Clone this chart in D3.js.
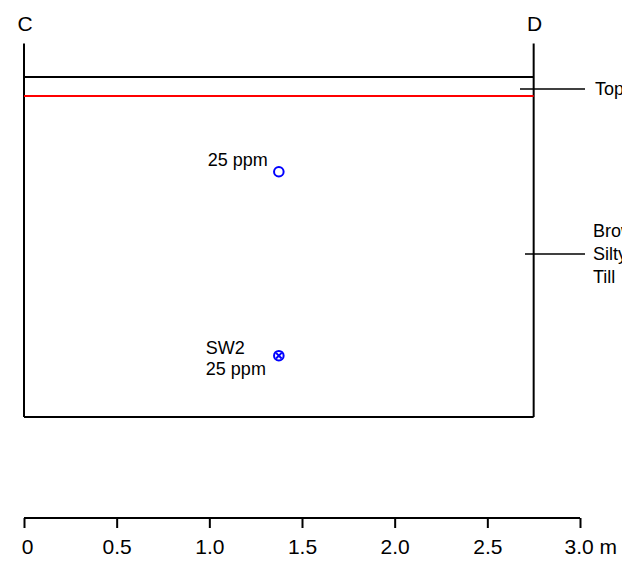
<!DOCTYPE html>
<html>
<head>
<meta charset="utf-8">
<script src="https://cdn.jsdelivr.net/npm/d3@7"></script>
<style>
  body { margin: 0; background: #fff; }
  svg text { font-family: "Liberation Sans", Arial, sans-serif; font-size: 18px; fill: #000; }
</style>
</head>
<body>
<div id="chart"></div>
<script>
// section ends (m along, depth in m)
var sectionEnds = [{name: "C", x: 0}, {name: "D", x: 2.75}];
var sectionTop = -0.18, sectionBottom = 1.83;
var layerLines = [{depth: 0, color: "black"}, {depth: 0.1, color: "#ff0000"}];
// samples
var samples = [
  {x: 1.375, depth: 0.51, labels: ["25 ppm"], cross: false},
  {x: 1.375, depth: 1.5, labels: ["SW2", "25 ppm"], cross: true}
];
// layer labels
var layerLabels = [
  {depth: 0.065, lines: ["Topsoil"]},
  {depth: 0.95, lines: ["Brown", "Silty", "Till"]}
];
var scaleTicks = [0, 0.5, 1.0, 1.5, 2.0, 2.5, 3.0];

var width = 622, height = 561;
var svg = d3.select("#chart").append("svg")
  .attr("width", width).attr("height", height);

var x = d3.scaleLinear().domain([0, 3]).range([24, 580]);
var y = d3.scaleLinear().domain([0, 1.83]).range([77, 417]);

var x0 = x(sectionEnds[0].x), x1 = x(sectionEnds[1].x);

// vertical section lines
svg.selectAll("line.end").data(sectionEnds).enter().append("line")
  .attr("x1", function(d) { return x(d.x); }).attr("x2", function(d) { return x(d.x); })
  .attr("y1", y(sectionTop)).attr("y2", y(sectionBottom))
  .attr("stroke", "black").attr("stroke-width", 2);

svg.selectAll("text.end").data(sectionEnds).enter().append("text")
  .attr("x", function(d) { return x(d.x) + 1; }).attr("y", 31)
  .attr("text-anchor", "middle").style("font-size", "21px")
  .text(function(d) { return d.name; });

// bottom line
svg.append("line")
  .attr("x1", x0).attr("x2", x1).attr("y1", y(sectionBottom)).attr("y2", y(sectionBottom))
  .attr("stroke", "black").attr("stroke-width", 2);

// layer boundaries
svg.selectAll("line.layer").data(layerLines).enter().append("line")
  .attr("x1", x0).attr("x2", x1)
  .attr("y1", function(d) { return Math.round(y(d.depth)); }).attr("y2", function(d) { return Math.round(y(d.depth)); })
  .attr("stroke", function(d) { return d.color; }).attr("stroke-width", 2);

// layer labels with leaders
var ll = svg.selectAll("g.ll").data(layerLabels).enter().append("g");
ll.append("line")
  .attr("x1", function(d, i) { return i == 0 ? 520 : 525; }).attr("x2", 585)
  .attr("y1", function(d) { return Math.round(y(d.depth)); }).attr("y2", function(d) { return Math.round(y(d.depth)); })
  .attr("stroke", "black").attr("stroke-width", 1.5);
ll.append("text")
  .attr("x", function(d, i) { return i == 0 ? 595 : 593; })
  .attr("y", function(d) { return y(d.depth) - (d.lines.length - 1) / 2 * 23 + 6; })
  .selectAll("tspan").data(function(d) { return d.lines; }).enter().append("tspan")
  .attr("x", function() { return d3.select(this.parentNode).attr("x"); })
  .attr("dy", function(d, i) { return i == 0 ? 0 : 23; })
  .text(function(d) { return d; });

// samples
var s = svg.selectAll("g.sample").data(samples).enter().append("g")
  .attr("transform", function(d) { return "translate(" + x(d.x) + "," + y(d.depth) + ")"; });
s.append("circle").attr("r", 4.8)
  .attr("fill", "none").attr("stroke", "blue").attr("stroke-width", 2);
s.filter(function(d) { return d.cross; }).append("path")
  .attr("d", "M-2.8,-2.8L2.8,2.8M-2.8,2.8L2.8,-2.8")
  .attr("stroke", "blue").attr("stroke-width", 2);
s.each(function(d) {
  var g = d3.select(this);
  var n = d.labels.length;
  d.labels.forEach(function(t, i) {
    if (n == 1) {
      g.append("text").attr("x", -11).attr("y", -6).attr("text-anchor", "end").text(t);
    } else {
      g.append("text").attr("x", -73).attr("y", -2 + i * 21).text(t);
    }
  });
});

// scale bar
var axis = d3.axisBottom(x).tickValues(scaleTicks).tickSize(10).tickPadding(6)
  .tickFormat(function(d) { return d == 0 ? "0" : d == 3 ? "3.0 m" : d3.format(".1f")(d); });
var ag = svg.append("g").attr("transform", "translate(0,518)").call(axis);
ag.select(".domain").attr("d", "M" + x(0) + ",0H" + x(3)).attr("stroke-width", 2);
ag.selectAll(".tick line").attr("stroke-width", 2).attr("y1", 0);
ag.selectAll(".tick text").style("font-size", "21px")
  .style("font-family", "Liberation Sans, Arial, sans-serif")
  .attr("y", 21)
  .attr("text-anchor", function(d) { return d == 3 ? "start" : "middle"; })
  .attr("dx", function(d) { return d == 3 ? -16 : d == 0 ? 3 : 0; });
</script>
</body>
</html>
